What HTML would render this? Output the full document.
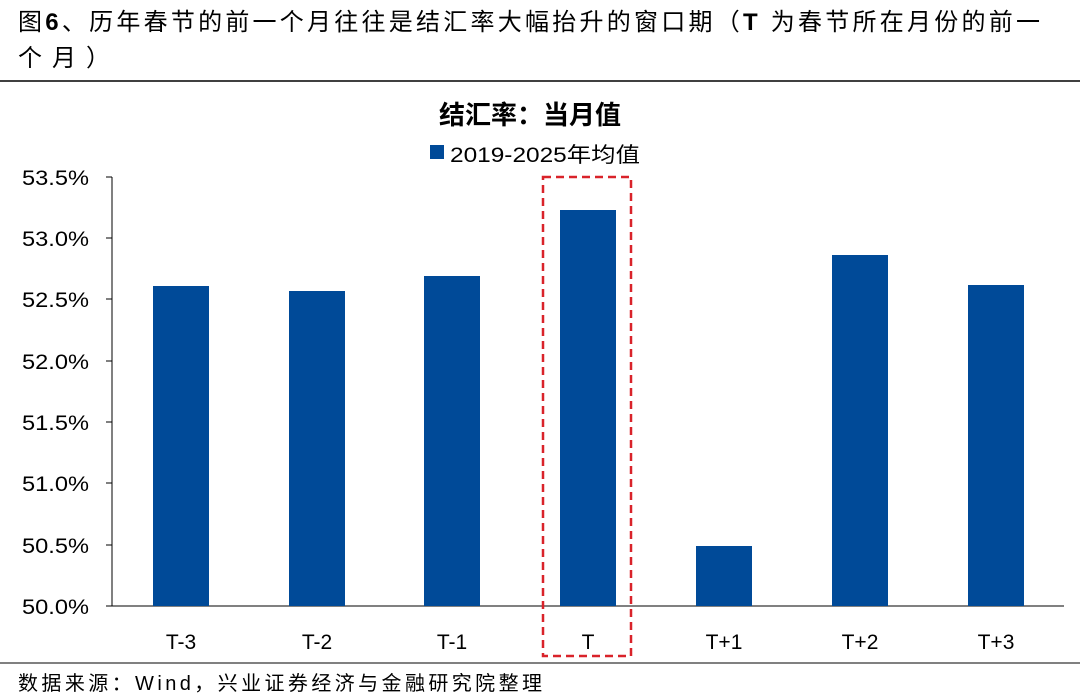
<!DOCTYPE html>
<html><head><meta charset="utf-8"><style>
body{margin:0;background:#fff;width:1080px;height:694px;overflow:hidden;font-family:"Liberation Sans","Noto Sans CJK SC",sans-serif;}
</style></head><body>
<svg width="1080" height="694" xmlns="http://www.w3.org/2000/svg" style="font-family:'Liberation Sans','Noto Sans CJK SC',sans-serif">
<text x="18" y="30" font-size="24" fill="#000" textLength="1022" lengthAdjust="spacing">图<tspan font-weight="bold">6</tspan>、历年春节的前一个月往往是结汇率大幅抬升的窗口期（<tspan font-weight="bold">T</tspan> 为春节所在月份的前一</text>
<text x="18" y="66" font-size="24" fill="#000" textLength="92" lengthAdjust="spacing">个月）</text>
<line x1="0" y1="81" x2="1080" y2="81" stroke="#000" stroke-width="1.5"/>
<text x="530" y="124" font-size="26" font-weight="bold" text-anchor="middle">结汇率：当月值</text>
<rect x="430" y="145" width="14" height="14" fill="#004a98"/>
<text x="450" y="162" font-size="21" textLength="190" lengthAdjust="spacingAndGlyphs">2019-2025年均值</text>
<g font-size="21" fill="#000">
<text x="22" y="185" textLength="67" lengthAdjust="spacingAndGlyphs">53.5%</text><text x="22" y="246" textLength="67" lengthAdjust="spacingAndGlyphs">53.0%</text><text x="22" y="307" textLength="67" lengthAdjust="spacingAndGlyphs">52.5%</text><text x="22" y="369" textLength="67" lengthAdjust="spacingAndGlyphs">52.0%</text><text x="22" y="430" textLength="67" lengthAdjust="spacingAndGlyphs">51.5%</text><text x="22" y="491" textLength="67" lengthAdjust="spacingAndGlyphs">51.0%</text><text x="22" y="553" textLength="67" lengthAdjust="spacingAndGlyphs">50.5%</text><text x="22" y="614" textLength="67" lengthAdjust="spacingAndGlyphs">50.0%</text>
</g>
<g stroke="#000" stroke-width="1">
<line x1="112" y1="177" x2="112" y2="606"/>
<line x1="112" y1="606" x2="1064" y2="606"/>
<line x1="106" y1="177" x2="112" y2="177"/><line x1="106" y1="238" x2="112" y2="238"/><line x1="106" y1="299" x2="112" y2="299"/><line x1="106" y1="361" x2="112" y2="361"/><line x1="106" y1="422" x2="112" y2="422"/><line x1="106" y1="483" x2="112" y2="483"/><line x1="106" y1="545" x2="112" y2="545"/><line x1="106" y1="606" x2="112" y2="606"/>
</g>
<g fill="#004a98">
<rect x="153" y="286" width="56" height="320"/>
<rect x="289" y="291" width="56" height="315"/>
<rect x="424" y="276" width="56" height="330"/>
<rect x="560" y="210" width="56" height="396"/>
<rect x="696" y="546" width="56" height="60"/>
<rect x="832" y="255" width="56" height="351"/>
<rect x="968" y="285" width="56" height="321"/>
</g>
<g font-size="21" text-anchor="middle">
<text x="181" y="649">T-3</text><text x="317" y="649">T-2</text><text x="452" y="649">T-1</text><text x="588" y="649">T</text><text x="724" y="649">T+1</text><text x="860" y="649">T+2</text><text x="996" y="649">T+3</text>
</g>
<rect x="543" y="177" width="88" height="479" fill="none" stroke="#d9232a" stroke-width="2.5" stroke-dasharray="8,5"/>
<line x1="0" y1="663" x2="1080" y2="663" stroke="#000" stroke-width="1"/>
<text x="18" y="690" font-size="20" textLength="524" lengthAdjust="spacing">数据来源：Wind，兴业证券经济与金融研究院整理</text>
</svg>
</body></html>
